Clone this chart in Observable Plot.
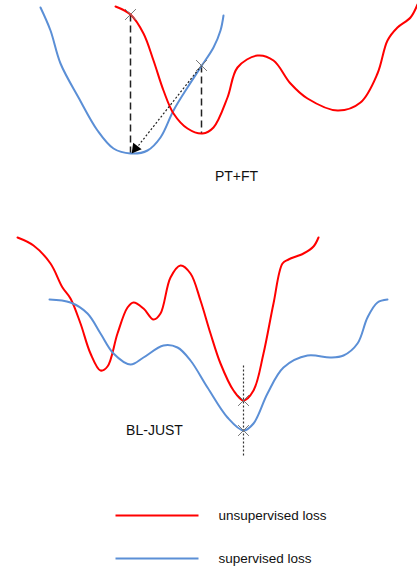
<!DOCTYPE html>
<html><head><meta charset="utf-8">
<script src="https://cdn.jsdelivr.net/npm/d3@7"></script>
<script src="https://cdn.jsdelivr.net/npm/@observablehq/plot@0.6"></script>
<style>body{margin:0;background:#fff}</style>
</head><body><div id="chart"></div>
<script>
// Schematic loss-landscape curves (x, y in diagram units, y grows downward)
const supervisedTop = [[40,7],[50,30],[60,63],[78,97],[97,130],[113,148],[130,153],[147,150],[160,137],[173,110],[187,87],[200,67],[213,47],[220,30],[223,15]];
const unsupervisedTop = [[115,6],[130,14],[143,33],[153,60],[163,90],[173,113],[187,128],[202,133],[213,127],[227,97],[237,67],[257,55],[273,60],[290,83],[307,98],[337,110],[360,102],[377,73],[387,40],[397,27],[410,17],[417,4]];
const unsupervisedBottom = [[17,237],[33,245],[50,263],[62,287],[70,298],[80,323],[90,353],[100,370],[107,366],[117,333],[127,307],[133,302],[143,308],[153,319],[160,313],[170,277],[180,265],[190,273],[200,300],[210,333],[220,363],[233,390],[243,400],[253,390],[263,353],[273,303],[282,263],[288,259],[303,253],[313,246],[318,237]];
const supervisedBottom = [[49,299],[70,302],[87,313],[100,333],[113,353],[130,364],[143,357],[163,345],[177,347],[190,360],[207,387],[227,417],[243,430],[253,423],[267,393],[283,367],[307,355],[330,357],[343,355],[357,343],[367,317],[377,302],[387,299]];
const crossPoints = [[130,14],[201,65],[243,400],[243,430]];
const dashedDrops = [[130,14,130,153],[201,65,201,133]];
const dottedArrow = [[201,65,138,145]];
const arrowTip = [[135,148]];
const dottedVertical = [[243,365,243,457]];
const panelLabels = [["PT+FT",236,176],["BL-JUST",154,430]];
const legendLabels = ["unsupervised loss","supervised loss"];
const legendY = [515,558];
const legendColors = ["#ff0000","#5b8fd6"];

const lineOpts = {x:d=>d[0], y:d=>d[1], curve:"catmull-rom", strokeWidth:2};
const chart = Plot.plot({
  width:417, height:567, margin:0,
  x:{domain:[0,417], axis:null},
  y:{domain:[0,567], reverse:true, axis:null},
  style:{fontFamily:"'Liberation Sans', Arial, sans-serif", background:"#fff"},
  marks:[
    Plot.link(dashedDrops,{x1:d=>d[0],y1:d=>d[1],x2:d=>d[2],y2:d=>d[3],stroke:"#222",strokeWidth:1.5,strokeDasharray:"7,4"}),
    Plot.line(supervisedTop,{...lineOpts, stroke:legendColors[1]}),
    Plot.line(unsupervisedTop,{...lineOpts, stroke:legendColors[0]}),
    Plot.link(dottedArrow,{x1:d=>d[0],y1:d=>d[1],x2:d=>d[2],y2:d=>d[3],stroke:"#222",strokeWidth:1.2,strokeDasharray:"2,2"}),
    Plot.dot(arrowTip,{x:d=>d[0],y:d=>d[1],symbol:"triangle",r:4,fill:"#000",stroke:"none",rotate:218}),
    Plot.line(unsupervisedBottom,{...lineOpts, stroke:legendColors[0]}),
    Plot.line(supervisedBottom,{...lineOpts, stroke:legendColors[1]}),
    Plot.link(dottedVertical,{x1:d=>d[0],y1:d=>d[1],x2:d=>d[2],y2:d=>d[3],stroke:"#333",strokeWidth:1.2,strokeDasharray:"2,2"}),
    Plot.dot(crossPoints,{x:d=>d[0],y:d=>d[1],symbol:"times",r:5,stroke:"#777",strokeWidth:1}),
    Plot.text(panelLabels,{x:d=>d[1],y:d=>d[2],text:d=>d[0],fontSize:14,fill:"#111"}),
    Plot.link(legendLabels,{x1:()=>115,x2:()=>198,y1:(d,i)=>legendY[i],y2:(d,i)=>legendY[i],stroke:(d,i)=>legendColors[i],strokeWidth:2}),
    Plot.text(legendLabels,{x:()=>218,y:(d,i)=>legendY[i],text:d=>d,textAnchor:"start",fontSize:13.5,fill:"#111"})
  ]
});
document.getElementById("chart").append(chart);
</script>
</body></html>
